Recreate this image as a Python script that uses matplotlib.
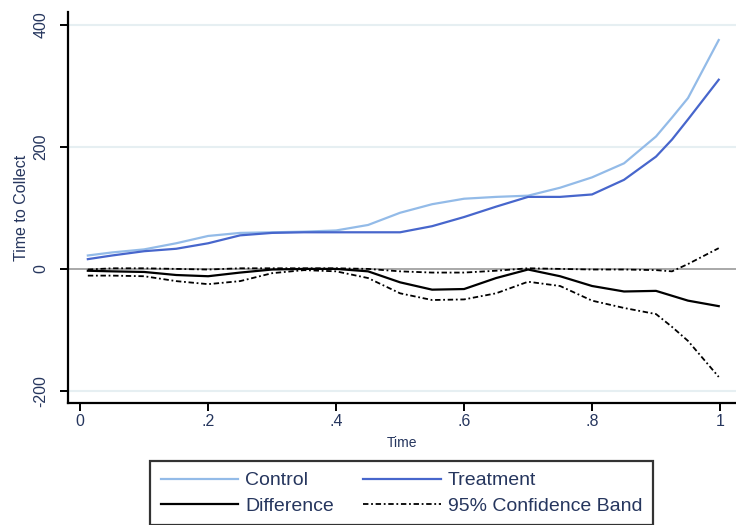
import numpy as np
import matplotlib
matplotlib.use("Agg")
import matplotlib.pyplot as plt

plt.rcParams['font.family'] = ['Liberation Sans', 'DejaVu Sans']

# time grid and smoothed series
t = [0.012, 0.05, 0.1, 0.15, 0.2, 0.25, 0.3, 0.35, 0.4, 0.45, 0.5,
     0.55, 0.6, 0.65, 0.7, 0.75, 0.8, 0.85, 0.9, 0.925, 0.95, 0.998]
control = [22, 27, 32, 42, 54, 59, 60, 61, 63, 72, 92,
           106, 115, 118, 120, 133, 150, 173, 217, 248, 280, 375]
treatment = [16, 22, 29, 33, 42, 55, 59, 60, 60, 60, 60,
             70, 85, 102, 118, 118, 122, 146, 184, 212, 245, 310]
difference = [-3, -4, -5, -10, -12, -6, -1, 0, 0, -4, -22,
              -34, -33, -15, -1, -12, -28, -37, -36, -44, -52, -61]
band_lo = [-11, -11, -12, -20, -25, -20, -7, -2, -4, -15, -40,
           -51, -50, -40, -21, -28, -52, -64, -74, -95, -118, -177]
band_hi = [-1, 1, 1, 0, -1, 1, 1, 1, 1, 0, -4,
           -6, -6, -3, 1, 0, -1, -1, -2, -4, 8, 34]

xticks = [0, 0.2, 0.4, 0.6, 0.8, 1.0]
xticklabels = ['0', '.2', '.4', '.6', '.8', '1']
yticks = [-200, 0, 200, 400]

txt = '#26365e'
band_style = (0, (3, 1.5, 1, 1.5))

fig = plt.figure(figsize=(7.36, 5.25), dpi=100)
ax = fig.add_axes([0.0924, 0.2324, 0.9076, 0.7448])

for y in [-200, 200, 400]:
    ax.axhline(y, color='#e6eff2', lw=1.5, zorder=0)
ax.axhline(0, color='#9a9a9a', lw=1.2, zorder=1)

l_ctrl, = ax.plot(t, control, color='#93bbe8', lw=1.6, label='Control')
l_trt, = ax.plot(t, treatment, color='#4766cc', lw=1.6, label='Treatment')
l_diff, = ax.plot(t, difference, color='black', lw=1.6, label='Difference')
l_band, = ax.plot(t, band_lo, color='black', lw=1.3, ls=band_style,
                  label='95% Confidence Band')
ax.plot(t, band_hi, color='black', lw=1.3, ls=band_style)

ax.set_xlim(-0.019, 1.025)
ax.set_ylim(-219.7, 421)
ax.set_xticks(xticks)
ax.set_xticklabels(xticklabels)
ax.set_yticks(yticks)
ax.set_yticklabels([str(v) for v in yticks], rotation=90, va='center')

for s in ['top', 'right']:
    ax.spines[s].set_visible(False)
for s in ['left', 'bottom']:
    ax.spines[s].set_linewidth(1.6)
ax.tick_params(axis='both', direction='out', length=6, width=1.4,
               labelsize=11.5, labelcolor=txt)
ax.tick_params(axis='x', pad=2)
ax.tick_params(axis='y', pad=8)

ax.set_xlabel('Time', fontsize=10, color=txt, labelpad=5)
ax.set_ylabel('Time to Collect', fontsize=11.5, color=txt, labelpad=3)

# legend fills column by column, so order handles for row-wise reading
handles = [l_ctrl, l_diff, l_trt, l_band]
labels = [h.get_label() for h in handles]
leg = fig.legend(handles, labels, ncol=2, loc='upper left',
                 bbox_to_anchor=(150 / 736, 1 - 461 / 525),
                 fontsize=14, frameon=True, fancybox=False,
                 edgecolor='black', handlelength=4.0, handletextpad=0.35,
                 columnspacing=1.5, borderpad=0.55, labelspacing=0.4,
                 borderaxespad=0)
leg.get_frame().set_linewidth(1.6)
for text in leg.get_texts():
    text.set_color(txt)

fig.savefig('out.png', dpi=100)
